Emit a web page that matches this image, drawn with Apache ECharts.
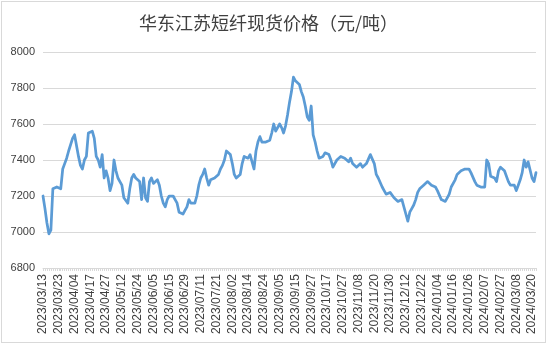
<!DOCTYPE html>
<html>
<head>
<meta charset="utf-8">
<script src="https://cdn.jsdelivr.net/npm/echarts@6/dist/echarts.min.js"></script>
<style>
  html, body { margin: 0; padding: 0; background: #ffffff; }
  #frame { position: absolute; left: 1px; top: 1px; width: 545px; height: 342px; border: 1px solid #d9d9d9; box-sizing: border-box; }
  #chart { width: 552px; height: 348px; }
</style>
</head>
<body>
<div id="chart"></div>
<div id="frame"></div>
<script>
// Trading days, 2023/03/13 – 2024/03/22
const tradeDays = [
  '2023/03/13','2023/03/14','2023/03/15','2023/03/16','2023/03/17','2023/03/20','2023/03/21','2023/03/22','2023/03/23','2023/03/24','2023/03/27','2023/03/28','2023/03/29','2023/03/30','2023/03/31',
  '2023/04/03','2023/04/04','2023/04/06','2023/04/07','2023/04/10','2023/04/11','2023/04/12','2023/04/13','2023/04/14','2023/04/17','2023/04/18','2023/04/19','2023/04/20','2023/04/21','2023/04/24','2023/04/25','2023/04/26','2023/04/27','2023/04/28',
  '2023/05/04','2023/05/05','2023/05/08','2023/05/09','2023/05/10','2023/05/11','2023/05/12','2023/05/15','2023/05/16','2023/05/17','2023/05/18','2023/05/19','2023/05/22','2023/05/23','2023/05/24','2023/05/25','2023/05/26','2023/05/29','2023/05/30','2023/05/31',
  '2023/06/01','2023/06/02','2023/06/05','2023/06/06','2023/06/07','2023/06/08','2023/06/09','2023/06/12','2023/06/13','2023/06/14','2023/06/15','2023/06/16','2023/06/19','2023/06/20','2023/06/21','2023/06/26','2023/06/27','2023/06/28','2023/06/29','2023/06/30',
  '2023/07/03','2023/07/04','2023/07/05','2023/07/06','2023/07/07','2023/07/10','2023/07/11','2023/07/12','2023/07/13','2023/07/14','2023/07/17','2023/07/18','2023/07/19','2023/07/20','2023/07/21','2023/07/24','2023/07/25','2023/07/26','2023/07/27','2023/07/28','2023/07/31',
  '2023/08/01','2023/08/02','2023/08/03','2023/08/04','2023/08/07','2023/08/08','2023/08/09','2023/08/10','2023/08/11','2023/08/14','2023/08/15','2023/08/16','2023/08/17','2023/08/18','2023/08/21','2023/08/22','2023/08/23','2023/08/24','2023/08/25','2023/08/28','2023/08/29','2023/08/30','2023/08/31',
  '2023/09/01','2023/09/04','2023/09/05','2023/09/06','2023/09/07','2023/09/08','2023/09/11','2023/09/12','2023/09/13','2023/09/14','2023/09/15','2023/09/18','2023/09/19','2023/09/20','2023/09/21','2023/09/22','2023/09/25','2023/09/26','2023/09/27','2023/09/28',
  '2023/10/09','2023/10/10','2023/10/11','2023/10/12','2023/10/13','2023/10/16','2023/10/17','2023/10/18','2023/10/19','2023/10/20','2023/10/23','2023/10/24','2023/10/25','2023/10/26','2023/10/27','2023/10/30','2023/10/31',
  '2023/11/01','2023/11/02','2023/11/03','2023/11/06','2023/11/07','2023/11/08','2023/11/09','2023/11/10','2023/11/13','2023/11/14','2023/11/15','2023/11/16','2023/11/17','2023/11/20','2023/11/21','2023/11/22','2023/11/23','2023/11/24','2023/11/27','2023/11/28','2023/11/29','2023/11/30',
  '2023/12/01','2023/12/04','2023/12/05','2023/12/06','2023/12/07','2023/12/08','2023/12/11','2023/12/12','2023/12/13','2023/12/14','2023/12/15','2023/12/18','2023/12/19','2023/12/20','2023/12/21','2023/12/22','2023/12/25','2023/12/26','2023/12/27','2023/12/28','2023/12/29',
  '2024/01/02','2024/01/03','2024/01/04','2024/01/05','2024/01/08','2024/01/09','2024/01/10','2024/01/11','2024/01/12','2024/01/15','2024/01/16','2024/01/17','2024/01/18','2024/01/19','2024/01/22','2024/01/23','2024/01/24','2024/01/25','2024/01/26','2024/01/29','2024/01/30','2024/01/31',
  '2024/02/01','2024/02/02','2024/02/05','2024/02/06','2024/02/07','2024/02/08','2024/02/19','2024/02/20','2024/02/21','2024/02/22','2024/02/23','2024/02/26','2024/02/27','2024/02/28','2024/02/29',
  '2024/03/01','2024/03/04','2024/03/05','2024/03/06','2024/03/07','2024/03/08','2024/03/11','2024/03/12','2024/03/13','2024/03/14','2024/03/15','2024/03/18','2024/03/19','2024/03/20','2024/03/21','2024/03/22'
];

// Spot price, yuan per tonne
const spotPrice = [
  7200, 7130, 7050, 6990, 7010, 7240, 7250, 7250, 7250, 7240,
  7350, 7380, 7410, 7450, 7450, 7520, 7540, 7550, 7420, 7370,
  7350, 7400, 7420, 7550, 7560, 7560, 7520, 7420, 7400, 7360,
  7430, 7300, 7340, 7300, 7230, 7270, 7400, 7340, 7300, 7280,
  7260, 7190, 7200, 7160, 7240, 7300, 7320, 7300, 7300, 7280,
  7180, 7300, 7190, 7170, 7280, 7300, 7270, 7260, 7290, 7260,
  7200, 7160, 7140, 7180, 7200, 7200, 7200, 7180, 7160, 7110,
  7100, 7100, 7120, 7140, 7180, 7160, 7160, 7160, 7200, 7260,
  7300, 7320, 7350, 7300, 7260, 7290, 7300, 7300, 7300, 7320,
  7350, 7370, 7400, 7450, 7450, 7430, 7380, 7320, 7300, 7300,
  7320, 7380, 7420, 7420, 7410, 7430, 7420, 7350, 7450, 7500,
  7530, 7500, 7500, 7500, 7510, 7510, 7550, 7600, 7560, 7550,
  7600, 7580, 7550, 7590, 7650, 7720, 7780, 7860, 7840, 7830,
  7820, 7780, 7750, 7700, 7640, 7620, 7700, 7540, 7500, 7450,
  7410, 7400, 7420, 7440, 7430, 7430, 7400, 7360, 7380, 7400,
  7410, 7420, 7430, 7410, 7420, 7390, 7410, 7380, 7390, 7360,
  7370, 7380, 7360, 7370, 7380, 7390, 7430, 7430, 7380, 7320,
  7300, 7300, 7250, 7230, 7210, 7210, 7220, 7210, 7190, 7180,
  7170, 7180, 7180, 7170, 7100, 7060, 7110, 7130, 7150, 7180,
  7220, 7240, 7250, 7260, 7270, 7280, 7270, 7260, 7250, 7250,
  7230, 7220, 7180, 7180, 7170, 7190, 7210, 7250, 7260, 7290,
  7320, 7330, 7340, 7340, 7350, 7360, 7350, 7330, 7320, 7280,
  7260, 7250, 7250, 7250, 7250, 7400, 7380, 7310, 7320, 7300,
  7280, 7340, 7360, 7360, 7340, 7340, 7280, 7260, 7260, 7260,
  7230, 7260, 7290, 7330, 7400, 7360, 7390, 7390, 7300, 7280,
  7330
];

const priceAxis = { min: 6800, max: 8000, step: 200 };
const chartTitle = '华东江苏短纤现货价格（元/吨）';

const chart = echarts.init(document.getElementById('chart'), null, { renderer: 'canvas' });
chart.setOption({
  animation: false,
  backgroundColor: '#ffffff',
  title: {
    text: chartTitle,
    left: 134,
    top: 9,
    textStyle: { fontFamily: 'Noto Sans CJK SC', fontSize: 18, fontWeight: 'normal', color: '#404040' }
  },
  grid: { left: 43, right: 16, top: 52, bottom: 80, containLabel: false },
  xAxis: {
    type: 'category',
    data: tradeDays,
    boundaryGap: false,
    axisLine: { show: true, lineStyle: { color: '#d9d9d9', width: 1 } },
    axisTick: { show: true, interval: 0, length: 3, lineStyle: { color: '#d9d9d9' } },
    axisLabel: {
      interval: 7,
      rotate: 90,
      margin: 6,
      fontFamily: 'Liberation Sans',
      fontSize: 12,
      color: '#404040'
    },
    splitLine: { show: false }
  },
  yAxis: {
    type: 'value',
    min: priceAxis.min,
    max: priceAxis.max,
    interval: priceAxis.step,
    axisLine: { show: false },
    axisTick: { show: false },
    axisLabel: {
      margin: 8,
      fontFamily: 'Liberation Sans',
      fontSize: 11,
      color: '#404040',
      formatter: v => String(v)
    },
    splitLine: { lineStyle: { color: '#d9d9d9', width: 1 } }
  },
  series: [{
    type: 'line',
    data: spotPrice,
    showSymbol: false,
    symbol: 'none',
    lineStyle: { color: '#5b9bd5', width: 2.75, join: 'round', cap: 'round' },
    itemStyle: { color: '#5b9bd5' }
  }]
});
</script>
</body>
</html>
